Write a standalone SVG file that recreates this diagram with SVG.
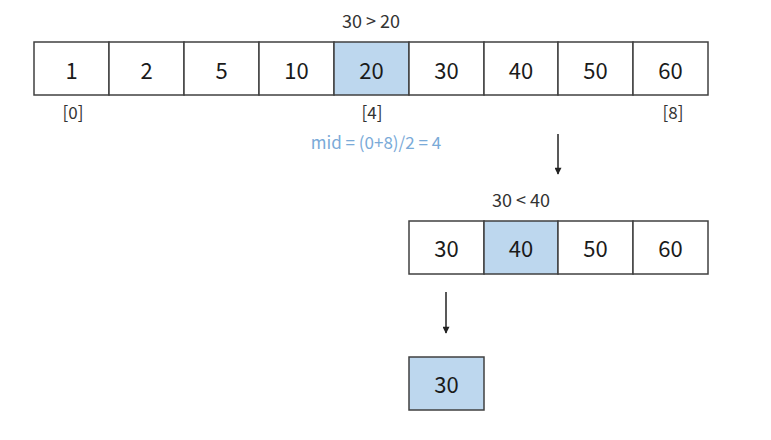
<svg xmlns="http://www.w3.org/2000/svg" width="771" height="440" viewBox="0 0 771 440">
<defs>
<style>
.cell{fill:#ffffff;stroke:#404040;stroke-width:1.5}
.hl{fill:#bdd7ee;stroke:#404040;stroke-width:1.5}
.num{font-family:"Noto Sans CJK KR","Noto Sans",sans-serif;font-size:22px;font-weight:400;fill:#1a1a1a;text-anchor:middle;dominant-baseline:central}
.lbl{font-family:"Noto Sans CJK KR","Noto Sans",sans-serif;font-size:18px;fill:#333333;text-anchor:middle;dominant-baseline:central}
.idx{font-family:"Noto Sans CJK KR","Noto Sans",sans-serif;font-size:17px;fill:#333333;text-anchor:middle;dominant-baseline:central}
.mid{font-family:"Noto Sans CJK KR","Noto Sans",sans-serif;font-size:17px;fill:#7aaad8;text-anchor:middle;dominant-baseline:central}
.conn{stroke:#222222;stroke-width:1.5;fill:none;marker-end:url(#ah)}
</style>
<marker id="ah" viewBox="0 0 10 10" refX="9" refY="5" markerWidth="8" markerHeight="7" orient="auto" markerUnits="userSpaceOnUse">
<path d="M0,0 L10,5 L0,10 z" fill="#222222"/>
</marker>
</defs>
<rect width="771" height="440" fill="#ffffff"/>
<g id="array1">
<rect class="cell" x="34" y="42" width="75" height="53"/>
<rect class="cell" x="109" y="42" width="75" height="53"/>
<rect class="cell" x="184" y="42" width="75" height="53"/>
<rect class="cell" x="259" y="42" width="75" height="53"/>
<rect class="hl" x="334" y="42" width="75" height="53"/>
<rect class="cell" x="409" y="42" width="75" height="53"/>
<rect class="cell" x="484" y="42" width="74" height="53"/>
<rect class="cell" x="558" y="42" width="75" height="53"/>
<rect class="cell" x="633" y="42" width="75" height="53"/>
<text class="num" x="71.5" y="69">1</text>
<text class="num" x="146.5" y="69">2</text>
<text class="num" x="221.5" y="69">5</text>
<text class="num" x="296.5" y="69">10</text>
<text class="num" x="371.5" y="69">20</text>
<text class="num" x="446.5" y="69">30</text>
<text class="num" x="521" y="69">40</text>
<text class="num" x="595.5" y="69">50</text>
<text class="num" x="670.5" y="69">60</text>
<text class="lbl" x="371" y="20">30 &gt; 20</text>
<text class="idx" x="73" y="111">[0]</text>
<text class="idx" x="372" y="111">[4]</text>
<text class="idx" x="673" y="111">[8]</text>
<text class="mid" x="376" y="141">mid = (0+8)/2 = 4</text>
</g>
<g id="array2">
<rect class="cell" x="409" y="221" width="75" height="53"/>
<rect class="hl" x="484" y="221" width="74" height="53"/>
<rect class="cell" x="558" y="221" width="75" height="53"/>
<rect class="cell" x="633" y="221" width="75" height="53"/>
<text class="num" x="446.5" y="247">30</text>
<text class="num" x="521" y="247">40</text>
<text class="num" x="595.5" y="247">50</text>
<text class="num" x="670.5" y="247">60</text>
<text class="lbl" x="521" y="199">30 &lt; 40</text>
</g>
<g id="array3">
<rect class="hl" x="409" y="357" width="75" height="53"/>
<text class="num" x="446.5" y="383">30</text>
</g>
<g id="connectors">
<line class="conn" x1="558" y1="134" x2="558" y2="174"/>
<line class="conn" x1="446" y1="292" x2="446" y2="333"/>
</g>
</svg>
